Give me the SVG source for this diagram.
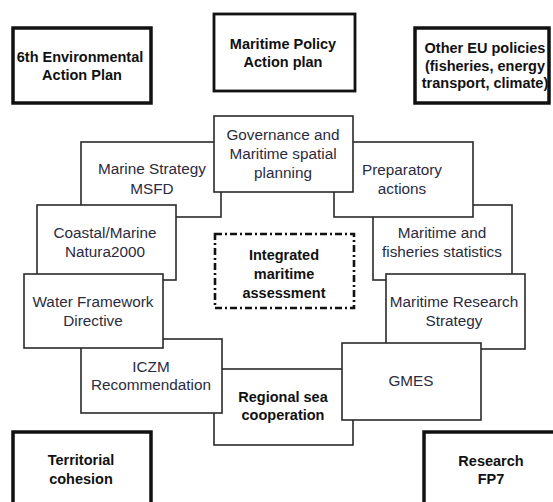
<svg xmlns="http://www.w3.org/2000/svg" width="553" height="502" viewBox="0 0 553 502">
<style>
  .thick { fill: #fff; stroke: #111; stroke-width: 3.5; }
  .mid { fill: #fff; stroke: #111; stroke-width: 2.8; }
  .box { fill: #fff; stroke: #2a2a2a; stroke-width: 1.6; }
  .dash { fill: none; stroke: #111; stroke-width: 2.6; stroke-dasharray: 7 3 2 3; }
  .bt { font-family: "Liberation Sans", Arial, sans-serif; font-weight: bold; font-size: 14.5px; fill: #111; text-anchor: middle; }
  .rt { font-family: "Liberation Sans", Arial, sans-serif; font-size: 15.3px; fill: #2b2b40; text-anchor: middle; }
</style>
<rect width="553" height="502" fill="#fff"/>
<g id="connectors"/>

<g id="env-action-plan">
  <rect class="thick" x="13" y="28" width="138" height="75"/>
  <text class="bt" x="80" y="62">6th Environmental</text>
  <text class="bt" x="82" y="80">Action Plan</text>
</g>
<g id="maritime-policy">
  <rect class="mid" x="214" y="14" width="141" height="77"/>
  <text class="bt" x="283" y="49">Maritime Policy</text>
  <text class="bt" x="283" y="67">Action plan</text>
</g>
<g id="other-eu">
  <rect class="thick" x="415" y="28" width="134" height="75"/>
  <text class="bt" x="485" y="53">Other EU policies</text>
  <text class="bt" x="485" y="71">(fisheries, energy</text>
  <text class="bt" x="485" y="88">transport, climate)</text>
</g>

<g id="marine-strategy">
  <rect class="box" x="81" y="142" width="140" height="75"/>
  <text class="rt" x="152" y="174">Marine Strategy</text>
  <text class="rt" x="152" y="194">MSFD</text>
</g>
<g id="statistics">
  <rect class="box" x="373" y="205" width="139" height="75"/>
  <text class="rt" x="442" y="238">Maritime and</text>
  <text class="rt" x="442" y="257">fisheries statistics</text>
</g>
<g id="preparatory">
  <rect class="box" x="334" y="142" width="139" height="75"/>
  <text class="rt" x="402" y="175">Preparatory</text>
  <text class="rt" x="402" y="194">actions</text>
</g>
<g id="governance">
  <rect class="box" x="214" y="116" width="139" height="76"/>
  <text class="rt" x="283" y="140">Governance and</text>
  <text class="rt" x="283" y="159">Maritime spatial</text>
  <text class="rt" x="283" y="178">planning</text>
</g>
<g id="coastal">
  <rect class="box" x="37" y="205" width="139" height="75"/>
  <text class="rt" x="105" y="238">Coastal/Marine</text>
  <text class="rt" x="105" y="257">Natura2000</text>
</g>
<g id="regional-sea">
  <rect class="box" x="214" y="369" width="139" height="76"/>
  <text class="bt" x="283" y="402">Regional sea</text>
  <text class="bt" x="283" y="420">cooperation</text>
</g>
<g id="iczm">
  <rect class="box" x="81" y="339" width="141" height="74"/>
  <text class="rt" x="151" y="372">ICZM</text>
  <text class="rt" x="151" y="390">Recommendation</text>
</g>
<g id="water-framework">
  <rect class="box" x="24" y="274" width="139" height="74"/>
  <text class="rt" x="93" y="307">Water Framework</text>
  <text class="rt" x="93" y="326">Directive</text>
</g>
<g id="maritime-research">
  <rect class="box" x="386" y="274" width="139" height="75"/>
  <text class="rt" x="454" y="307">Maritime Research</text>
  <text class="rt" x="454" y="326">Strategy</text>
</g>
<g id="gmes">
  <rect class="box" x="342" y="343" width="139" height="77"/>
  <text class="rt" x="411" y="386">GMES</text>
</g>

<g id="integrated-assessment">
  <rect class="dash" x="215" y="234" width="139" height="74"/>
  <text class="bt" x="284" y="260">Integrated</text>
  <text class="bt" x="284" y="279">maritime</text>
  <text class="bt" x="284" y="298">assessment</text>
</g>

<g id="territorial">
  <rect class="thick" x="13" y="432" width="138" height="80"/>
  <text class="bt" x="81" y="465">Territorial</text>
  <text class="bt" x="81" y="484">cohesion</text>
</g>
<g id="research-fp7">
  <rect class="thick" x="424" y="432" width="140" height="80"/>
  <text class="bt" x="491" y="466">Research</text>
  <text class="bt" x="491" y="484">FP7</text>
</g>
</svg>
